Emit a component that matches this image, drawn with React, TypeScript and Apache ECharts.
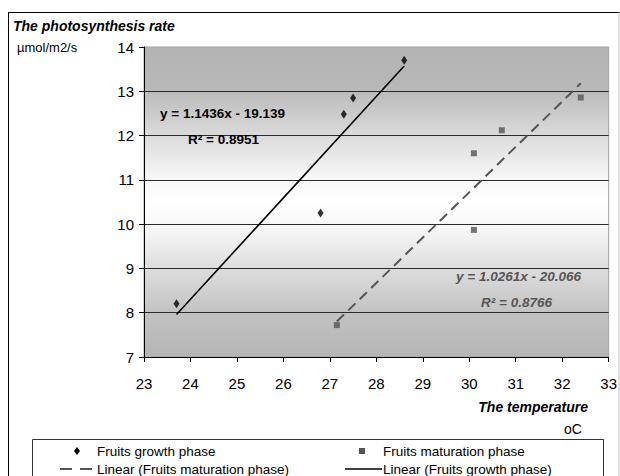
import React, { useEffect, useRef } from "react";
import * as echarts from "echarts";

// Data
const growthTemp = [23.7, 26.8, 27.3, 27.5, 28.6];
const growthRate = [8.2, 10.25, 12.48, 12.85, 13.7];
const maturationTemp = [27.15, 30.1, 30.1, 30.7, 32.4];
const maturationRate = [7.72, 9.87, 11.6, 12.12, 12.86];
// Trend line end points (Excel linear trendlines)
const growthTrendTemp = [23.7, 28.6];
const growthTrendRate = [7.96, 13.57];
const maturationTrendTemp = [27.15, 32.4];
const maturationTrendRate = [7.8, 13.18];

const seriesNames = [
  "Fruits growth phase",
  "Fruits maturation phase",
  "Linear (Fruits maturation phase)",
  "Linear (Fruits growth phase)",
];
const growthEquation = "y = 1.1436x - 19.139";
const growthR2 = "R² = 0.8951";
const maturationEquation = "y = 1.0261x - 20.066";
const maturationR2 = "R² = 0.8766";
const yTitle = "The photosynthesis rate";
const yUnit = "µmol/m2/s";
const xTitle = "The temperature";
const xUnit = "oC";

const pairs = (xs: number[], ys: number[]) => xs.map((x, i) => [x, ys[i]]);

const FONT = "'Liberation Sans', Arial, sans-serif";

export default function App() {
  const ref = useRef<HTMLDivElement>(null);
  useEffect(() => {
    if (!ref.current) return;
    const chart = echarts.init(ref.current, undefined, { renderer: "svg" });
    chart.setOption({
      animation: false,
      backgroundColor: "#fff",
      textStyle: { fontFamily: FONT },
      grid: {
        left: 144,
        top: 47,
        right: 10,
        bottom: 119,
        show: true,
        borderColor: "#a0a0a0",
        borderWidth: 1,
        backgroundColor: new echarts.graphic.LinearGradient(
          0,
          47,
          0,
          357,
          [
            { offset: 0, color: "#b3b3b3" },
            { offset: 0.13, color: "#b8b8b8" },
            { offset: 0.3, color: "#dedede" },
            { offset: 0.43, color: "#f8f8f8" },
            { offset: 0.5, color: "#ffffff" },
            { offset: 0.58, color: "#f8f8f8" },
            { offset: 0.72, color: "#dcdcdc" },
            { offset: 0.86, color: "#c2c2c2" },
            { offset: 1, color: "#b5b5b5" },
          ],
          true
        ),
      },
      xAxis: {
        type: "value",
        min: 23,
        max: 33,
        interval: 1,
        axisLine: { show: true, onZero: false, lineStyle: { color: "#000", width: 1 } },
        axisTick: { show: true, inside: false, length: 5, lineStyle: { color: "#000" } },
        axisLabel: { color: "#000", fontSize: 15, margin: 19, fontFamily: FONT },
        splitLine: { show: false },
      },
      yAxis: {
        type: "value",
        min: 7,
        max: 14,
        interval: 1,
        axisLine: { show: true, onZero: false, lineStyle: { color: "#000", width: 1 } },
        axisTick: { show: true, inside: false, length: 5, lineStyle: { color: "#000" } },
        axisLabel: { color: "#000", fontSize: 15, margin: 10, fontFamily: FONT },
        splitLine: { show: true, showMaxLine: false, lineStyle: { color: "#2a2a2a", width: 1 } },
      },
      series: [
        {
          name: seriesNames[0],
          type: "scatter",
          symbol: "diamond",
          symbolSize: [6, 9],
          itemStyle: { color: "#000" },
          data: pairs(growthTemp, growthRate),
          z: 5,
        },
        {
          name: seriesNames[1],
          type: "scatter",
          symbol: "rect",
          symbolSize: [6, 6],
          itemStyle: { color: "#555" },
          data: pairs(maturationTemp, maturationRate),
          z: 5,
        },
        {
          name: seriesNames[2],
          type: "line",
          symbol: "none",
          lineStyle: { color: "#555", width: 2, type: [10, 6] },
          data: pairs(maturationTrendTemp, maturationTrendRate),
          z: 4,
        },
        {
          name: seriesNames[3],
          type: "line",
          symbol: "none",
          lineStyle: { color: "#000", width: 1.6 },
          data: pairs(growthTrendTemp, growthTrendRate),
          z: 4,
        },
      ],
      graphic: [
        // outer frame
        { type: "line", shape: { x1: 8, y1: 12.5, x2: 620, y2: 12.5 }, style: { stroke: "#000", lineWidth: 1 } },
        { type: "line", shape: { x1: 8.5, y1: 12, x2: 8.5, y2: 476 }, style: { stroke: "#000", lineWidth: 1 } },
        { type: "line", shape: { x1: 619, y1: 12, x2: 619, y2: 476 }, style: { stroke: "#c0c0c0", lineWidth: 1 } },
        // axis titles
        {
          type: "text",
          x: 13,
          y: 26,
          style: { text: yTitle, font: `italic bold 14px ${FONT}`, fill: "#000", verticalAlign: "middle" },
        },
        {
          type: "text",
          x: 17,
          y: 47,
          style: { text: yUnit, font: `13px ${FONT}`, fill: "#000", verticalAlign: "middle" },
        },
        {
          type: "text",
          x: 588,
          y: 407,
          style: { text: xTitle, font: `italic bold 14px ${FONT}`, fill: "#000", align: "right", verticalAlign: "middle" },
        },
        {
          type: "text",
          x: 573,
          y: 429,
          style: { text: xUnit, font: `14px ${FONT}`, fill: "#000", align: "center", verticalAlign: "middle" },
        },
        // equations
        {
          type: "text",
          x: 160,
          y: 113,
          z: 10,
          style: { text: growthEquation, font: `bold 13.5px ${FONT}`, fill: "#000", verticalAlign: "middle" },
        },
        {
          type: "text",
          x: 188,
          y: 139,
          z: 10,
          style: { text: growthR2, font: `bold 13.5px ${FONT}`, fill: "#000", verticalAlign: "middle" },
        },
        {
          type: "text",
          x: 456,
          y: 276,
          z: 10,
          style: { text: maturationEquation, font: `italic bold 13.5px ${FONT}`, fill: "#555", verticalAlign: "middle" },
        },
        {
          type: "text",
          x: 481,
          y: 302,
          z: 10,
          style: { text: maturationR2, font: `italic bold 13.5px ${FONT}`, fill: "#555", verticalAlign: "middle" },
        },
        // legend box
        { type: "rect", shape: { x: 32.5, y: 439.5, width: 571, height: 60 }, style: { fill: "#fff", stroke: "#333", lineWidth: 1 } },
        { type: "polygon", shape: { points: [[77, 447], [80, 451], [77, 455], [74, 451]] }, style: { fill: "#000" } },
        { type: "text", x: 97, y: 451, style: { text: seriesNames[0], font: `13.5px ${FONT}`, fill: "#000", verticalAlign: "middle" } },
        { type: "rect", shape: { x: 359, y: 448, width: 6, height: 6 }, style: { fill: "#555" } },
        { type: "text", x: 383, y: 451, style: { text: seriesNames[1], font: `13.5px ${FONT}`, fill: "#000", verticalAlign: "middle" } },
        { type: "line", shape: { x1: 60, y1: 469, x2: 92, y2: 469 }, style: { stroke: "#555", lineWidth: 2, lineDash: [12, 8] } },
        { type: "text", x: 97, y: 469, style: { text: seriesNames[2], font: `13.5px ${FONT}`, fill: "#000", verticalAlign: "middle" } },
        { type: "line", shape: { x1: 345, y1: 469, x2: 382, y2: 469 }, style: { stroke: "#000", lineWidth: 1.6 } },
        { type: "text", x: 383, y: 469, style: { text: seriesNames[3], font: `13.5px ${FONT}`, fill: "#000", verticalAlign: "middle" } },
      ],
    });
    return () => chart.dispose();
  }, []);
  return (
    <div
      ref={ref}
      style={{ position: "fixed", left: 0, top: 0, width: 620, height: 476, background: "#fff" }}
    />
  );
}
